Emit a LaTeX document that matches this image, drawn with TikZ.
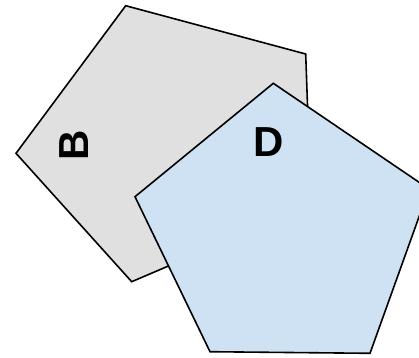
\documentclass[tikz,border=0pt]{standalone}
\usepackage{fontspec}
\setmainfont{Liberation Sans}
\usepackage{xcolor}
\definecolor{facegray}{HTML}{E0E0E0}
\definecolor{faceblue}{HTML}{CFE2F3}

\begin{document}
\begin{tikzpicture}[
  x=1pt, y=-1pt,
  face/.style={draw=black, line width=1.6pt, line join=miter},
  letter/.style={font=\fontsize{42}{42}\selectfont\bfseries, inner sep=0pt}
]
\useasboundingbox (0,0) rectangle (419,357);
\clip (0,0) rectangle (419,357);

% gray pentagon (behind)
\draw[face, fill=facegray] (125.7,5.7) -- (305.7,54) -- (311,205) -- (131.7,281.7) -- (16,153.3) -- cycle;
\node[letter, rotate=90] (lblB) at (73.8,145.5) {B};

% blue pentagon (front)
\draw[face, fill=faceblue] (273.3,83.3) -- (429,189) -- (370,353.3) -- (210,351.7) -- (135,196.7) -- cycle;
\node[letter] (lblD) at (269,142) {D};

\end{tikzpicture}
\end{document}
